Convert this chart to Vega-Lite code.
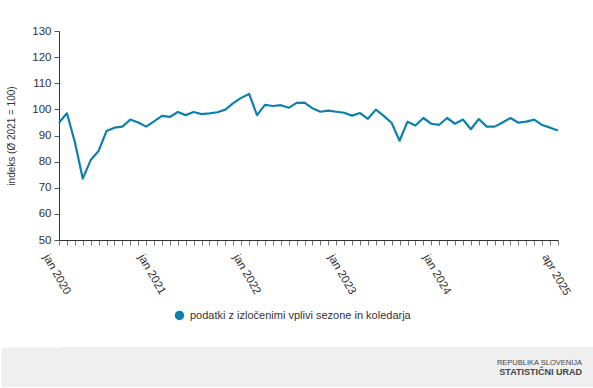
{
  "$schema": "https://vega.github.io/schema/vega-lite/v6.json",
  "background": "white",
  "padding": {"left": 0, "top": 25, "right": 0, "bottom": 0},
  "spacing": 49,
  "config": {
    "font": "Liberation Sans",
    "axis": {"labelFont": "Liberation Sans", "titleFont": "Liberation Sans", "labelColor": "#333333", "titleColor": "#333333", "titleFontWeight": "normal"},
    "legend": {"labelFont": "Liberation Sans"}
  },
  "vconcat": [
    {
      "width": 499,
      "height": 209,
      "view": {"stroke": null},
      "data": {
        "values": [
          {"m": "jan 2020", "v": 94.9}, {"m": "feb 2020", "v": 98.5}, {"m": "mar 2020", "v": 87.5}, {"m": "apr 2020", "v": 73.5},
          {"m": "maj 2020", "v": 80.6}, {"m": "jun 2020", "v": 84.1}, {"m": "jul 2020", "v": 91.7}, {"m": "avg 2020", "v": 93.0},
          {"m": "sep 2020", "v": 93.4}, {"m": "okt 2020", "v": 96.1}, {"m": "nov 2020", "v": 95.0}, {"m": "dec 2020", "v": 93.4},
          {"m": "jan 2021", "v": 95.4}, {"m": "feb 2021", "v": 97.5}, {"m": "mar 2021", "v": 97.1}, {"m": "apr 2021", "v": 99.0},
          {"m": "maj 2021", "v": 97.8}, {"m": "jun 2021", "v": 99.0}, {"m": "jul 2021", "v": 98.2}, {"m": "avg 2021", "v": 98.5},
          {"m": "sep 2021", "v": 98.9}, {"m": "okt 2021", "v": 99.9}, {"m": "nov 2021", "v": 102.4}, {"m": "dec 2021", "v": 104.4},
          {"m": "jan 2022", "v": 105.9}, {"m": "feb 2022", "v": 97.8}, {"m": "mar 2022", "v": 101.7}, {"m": "apr 2022", "v": 101.3},
          {"m": "maj 2022", "v": 101.6}, {"m": "jun 2022", "v": 100.6}, {"m": "jul 2022", "v": 102.5}, {"m": "avg 2022", "v": 102.6},
          {"m": "sep 2022", "v": 100.4}, {"m": "okt 2022", "v": 99.1}, {"m": "nov 2022", "v": 99.5}, {"m": "dec 2022", "v": 99.1},
          {"m": "jan 2023", "v": 98.7}, {"m": "feb 2023", "v": 97.6}, {"m": "mar 2023", "v": 98.6}, {"m": "apr 2023", "v": 96.4},
          {"m": "maj 2023", "v": 99.9}, {"m": "jun 2023", "v": 97.5}, {"m": "jul 2023", "v": 94.8}, {"m": "avg 2023", "v": 88.0},
          {"m": "sep 2023", "v": 95.3}, {"m": "okt 2023", "v": 93.8}, {"m": "nov 2023", "v": 96.7}, {"m": "dec 2023", "v": 94.5},
          {"m": "jan 2024", "v": 94.1}, {"m": "feb 2024", "v": 96.7}, {"m": "mar 2024", "v": 94.5}, {"m": "apr 2024", "v": 96.1},
          {"m": "maj 2024", "v": 92.4}, {"m": "jun 2024", "v": 96.3}, {"m": "jul 2024", "v": 93.4}, {"m": "avg 2024", "v": 93.4},
          {"m": "sep 2024", "v": 95.0}, {"m": "okt 2024", "v": 96.7}, {"m": "nov 2024", "v": 94.9}, {"m": "dec 2024", "v": 95.3},
          {"m": "jan 2025", "v": 96.1}, {"m": "feb 2025", "v": 94.0}, {"m": "mar 2025", "v": 93.0}, {"m": "apr 2025", "v": 91.9}
        ]
      },
      "transform": [{"calculate": "'podatki z izločenimi vplivi sezone in koledarja'", "as": "s"}],
      "mark": {"type": "line", "strokeWidth": 2.2, "strokeJoin": "round"},
      "encoding": {
        "x": {
          "field": "m", "type": "ordinal", "sort": null,
          "scale": {"type": "point", "padding": 0},
          "axis": {
            "title": null,
            "labelAngle": 60,
            "labelAlign": "left",
            "labelBaseline": "middle",
            "labelFontSize": 11.5,
            "labelOffset": -14,
            "labelPadding": 10,
            "labelOverlap": false,
            "labelExpr": "indexof(['jan 2020','jan 2021','jan 2022','jan 2023','jan 2024','apr 2025'], datum.value) >= 0 ? datum.value : ''",
            "tickSize": 5,
            "tickColor": "#777777",
            "domainColor": "#333333",
            "domainWidth": 1
          }
        },
        "y": {
          "field": "v", "type": "quantitative",
          "scale": {"domain": [50, 130], "nice": false, "zero": false},
          "axis": {
            "title": ["", "indeks (Ø 2021 = 100)"],
            "titleLineHeight": 6,
            "titleFontSize": 10,
            "titlePadding": 15,
            "values": [50, 60, 70, 80, 90, 100, 110, 120, 130],
            "grid": false,
            "labelFontSize": 11.5,
            "labelPadding": 3,
            "tickSize": 5,
            "tickColor": "#555555",
            "domainColor": "#333333"
          }
        },
        "color": {
          "field": "s", "type": "nominal",
          "scale": {"range": ["#0f80a8"]},
          "legend": {
            "title": null,
            "orient": "none",
            "legendX": 115,
            "legendY": 279,
            "symbolType": "circle",
            "symbolSize": 90,
            "symbolStrokeWidth": 0,
            "labelFontSize": 11,
            "labelLimit": 400,
            "labelColor": "#333333",
            "labelOffset": 5,
            "encode": {"symbols": {"update": {"fill": {"value": "#0f80a8"}, "strokeWidth": {"value": 0}}}}
          }
        }
      }
    },
    {
      "width": 535,
      "height": 40,
      "view": {"fill": "#efefef", "stroke": null},
      "title": {
        "text": "REPUBLIKA SLOVENIJA",
        "subtitle": "STATISTIČNI URAD",
        "anchor": "end",
        "orient": "top",
        "offset": -30,
        "dx": -12,
        "font": "Liberation Sans",
        "fontSize": 7.5,
        "fontWeight": "normal",
        "color": "#444444",
        "subtitleFont": "Liberation Sans",
        "subtitleFontSize": 9,
        "subtitleFontWeight": "bold",
        "subtitleColor": "#444444",
        "subtitlePadding": 2
      },
      "data": {"values": [{"t": ""}]},
      "mark": {"type": "text"},
      "encoding": {
        "text": {"field": "t"},
        "y": {
          "field": "t", "type": "nominal",
          "axis": {"title": null, "labels": false, "ticks": false, "domain": true, "domainWidth": 116, "domainColor": "#efefef", "domainCap": "butt"}
        }
      }
    }
  ]
}
